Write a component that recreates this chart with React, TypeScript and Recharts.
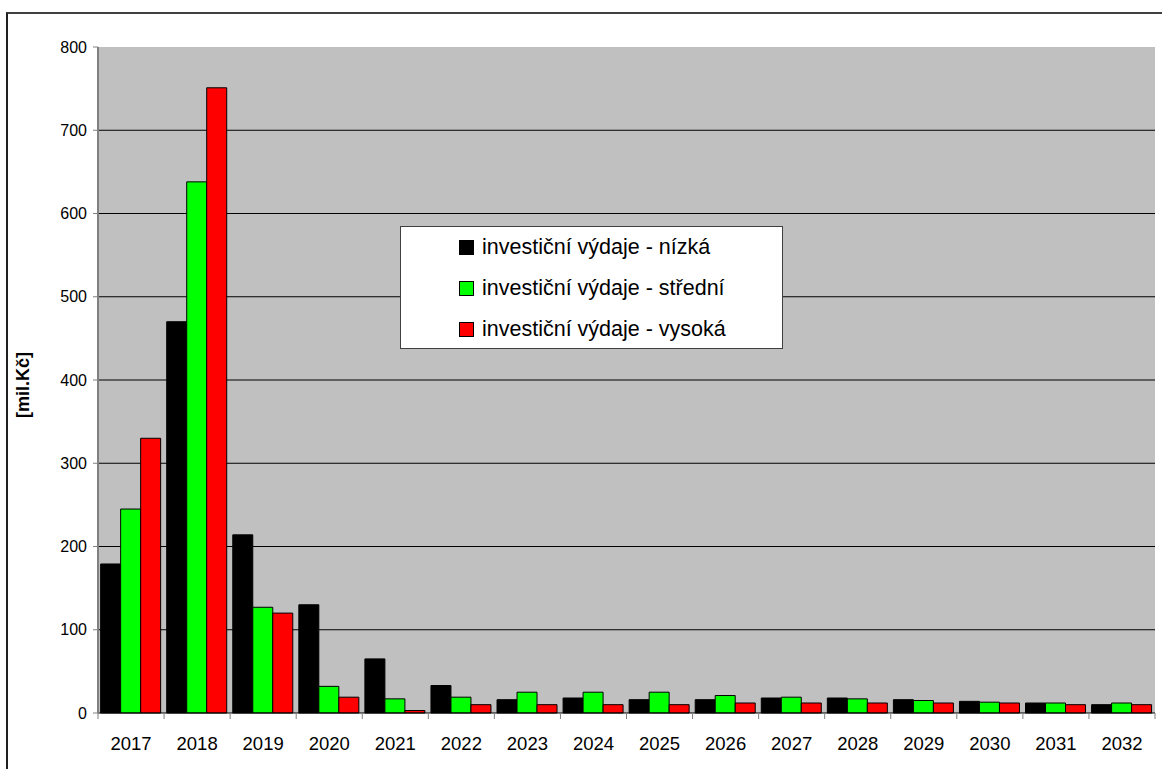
import React from 'react';
import { BarChart, Bar, XAxis, YAxis, CartesianGrid } from 'recharts';

const years = ['2017', '2018', '2019', '2020', '2021', '2022', '2023', '2024', '2025', '2026', '2027', '2028', '2029', '2030', '2031', '2032'];
const nizka = [179, 470, 214, 130, 65, 33, 16, 18, 16, 16, 18, 18, 16, 14, 12, 10];
const stredni = [245, 638, 127, 32, 17, 19, 25, 25, 25, 21, 19, 17, 15, 13, 12, 12];
const vysoka = [330, 751, 120, 19, 3, 10, 10, 10, 10, 12, 12, 12, 12, 12, 10, 10];
const yTicks = [0, 100, 200, 300, 400, 500, 600, 700, 800];

const seriesNames = ['investiční výdaje - nízká', 'investiční výdaje - střední', 'investiční výdaje - vysoká'];
const COLORS = ['#000000', '#00ff00', '#ff0000'];

const data = years.map((year, i) => ({
  year,
  nizka: nizka[i],
  stredni: stredni[i],
  vysoka: vysoka[i],
}));

const W = 1162;
const H = 769;
const LEFT = 98;
const RIGHT = 7;
const FONT = '"Liberation Sans", Arial, sans-serif';
const band = (W - LEFT - RIGHT) / years.length;

function YearTick({ x, y, payload, index }: { x: number; y: number; payload: { value: string }; index: number }) {
  const left = x - band / 2;
  return (
    <g>
      <line x1={left} x2={left} y1={y} y2={y + 6} stroke="#808080" />
      {index === years.length - 1 && (
        <line x1={x + band / 2} x2={x + band / 2} y1={y} y2={y + 6} stroke="#808080" />
      )}
      <text x={x} y={y + 37} textAnchor="middle" fontSize={18.5} fontFamily={FONT} fill="#000">
        {payload.value}
      </text>
    </g>
  );
}

// legend drawn as a box over the plot, like the original
function LegendBox() {
  return (
    <div
      style={{
        position: 'absolute',
        left: 400,
        top: 226,
        width: 381,
        height: 121,
        background: '#fff',
        border: '1px solid #404040',
        fontFamily: FONT,
        fontSize: 21.5,
        color: '#000',
        paddingTop: 0,
      }}
    >
      {seriesNames.map((name, i) => (
        <div key={name} style={{ display: 'flex', alignItems: 'center', height: 41, paddingLeft: 58 }}>
          <span
            style={{
              width: 13,
              height: 13,
              background: COLORS[i],
              border: '1px solid #000',
              marginRight: 8,
              flexShrink: 0,
            }}
          />
          <span>{name}</span>
        </div>
      ))}
    </div>
  );
}

export default function App() {
  return (
    <div style={{ position: 'absolute', left: 0, top: 0, width: W, height: H, overflow: 'hidden', background: '#fff' }}>
      <div
        style={{
          position: 'absolute',
          left: 6,
          top: 12,
          width: W + 50,
          height: H + 50,
          borderLeft: '2px solid #202020',
          borderTop: '2px solid #404040',
        }}
      />
      <div style={{ position: 'absolute', left: 0, top: 0 }}>
        <BarChart
          width={W}
          height={H}
          data={data}
          margin={{ top: 47, right: RIGHT, bottom: 0, left: 0 }}
          barCategoryGap="4%"
          barGap={0}
        >
          <CartesianGrid
            fill="#c0c0c0"
            stroke="#000"
            vertical={false}
            horizontalValues={[100, 200, 300, 400, 500, 600, 700]}
          />
          <XAxis
            dataKey="year"
            height={56}
            tickLine={false}
            tickSize={0}
            tickMargin={0}
            axisLine={{ stroke: '#000' }}
            interval={0}
            tick={(props: any) => <YearTick {...props} />}
          />
          <YAxis
            width={LEFT}
            domain={[0, 800]}
            ticks={yTicks}
            interval={0}
            tickSize={5}
            tickMargin={6}
            axisLine={{ stroke: '#808080', strokeWidth: 2 }}
            tickLine={{ stroke: '#808080' }}
            tick={{ fill: '#000', fontSize: 16, fontFamily: FONT }}
            label={{
              content: () => (
                <text
                  x={29}
                  y={385}
                  transform="rotate(-90 29 385)"
                  textAnchor="middle"
                  fontSize={18}
                  fontWeight="bold"
                  fontFamily={FONT}
                  fill="#000"
                >
                  [mil.Kč]
                </text>
              ),
            }}
          />
          <Bar dataKey="nizka" name={seriesNames[0]} fill={COLORS[0]} stroke="#000" strokeWidth={1} isAnimationActive={false} />
          <Bar dataKey="stredni" name={seriesNames[1]} fill={COLORS[1]} stroke="#000" strokeWidth={1} isAnimationActive={false} />
          <Bar dataKey="vysoka" name={seriesNames[2]} fill={COLORS[2]} stroke="#000" strokeWidth={1} isAnimationActive={false} />
        </BarChart>
      </div>
      <LegendBox />
    </div>
  );
}
